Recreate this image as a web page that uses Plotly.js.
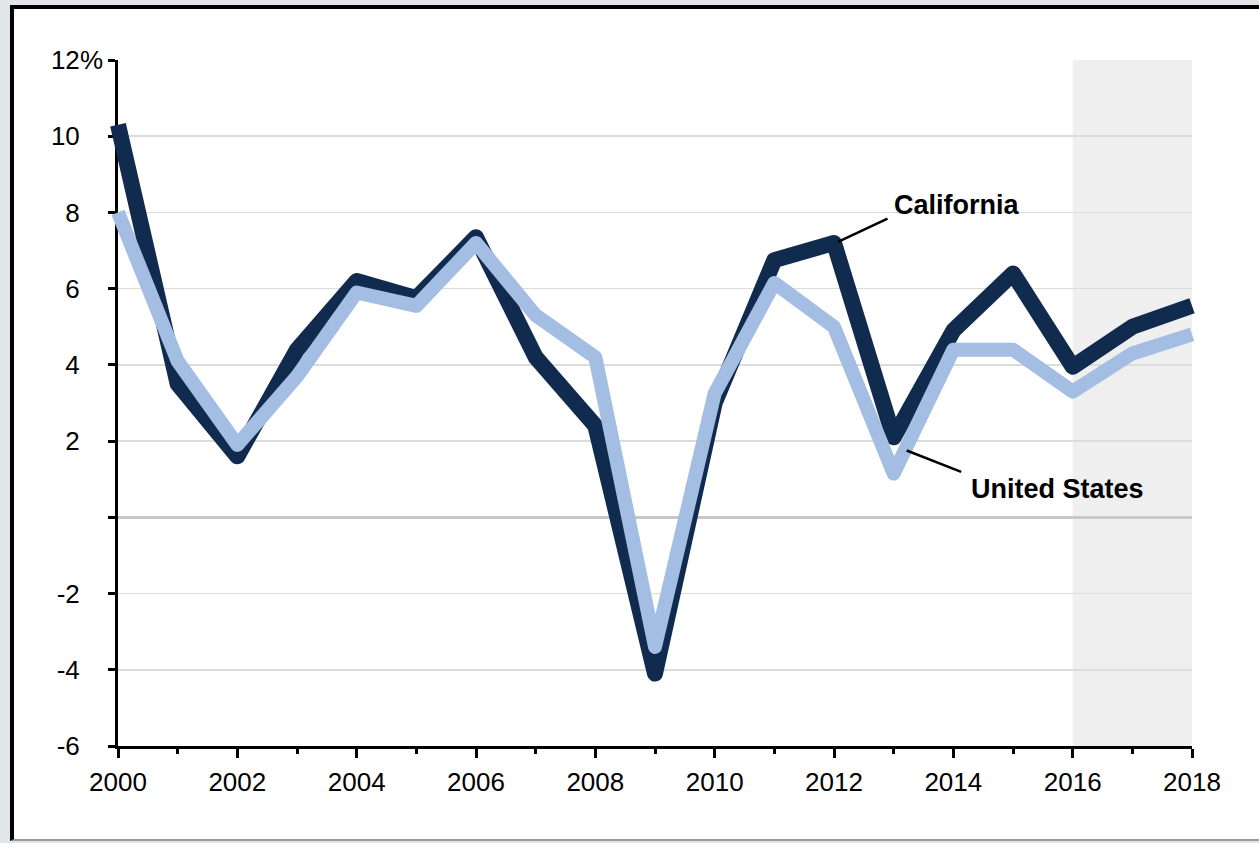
<!DOCTYPE html>
<html>
<head>
<meta charset="utf-8">
<script src="https://cdn.plot.ly/plotly-3.0.1.min.js"></script>
<style>
  html, body { margin: 0; padding: 0; }
  body { width: 1259px; height: 843px; background: #e1e4e8; position: relative; overflow: hidden; }
  #frame { position: absolute; left: 10px; top: 5px; width: 1300px; height: 830px;
           background: #ffffff; border-top: 4px solid #000; border-left: 4px solid #000;
           border-bottom: 2px solid #9a9a9a; }
  #chart { position: absolute; left: 0; top: 0; width: 1259px; height: 843px; }
  #chart .js-line { stroke-linejoin: round !important; }
</style>
</head>
<body>
<div id="frame"></div>
<div id="chart"></div>
<script>
const years = [2000, 2001, 2002, 2003, 2004, 2005, 2006, 2007, 2008, 2009,
               2010, 2011, 2012, 2013, 2014, 2015, 2016, 2017, 2018];
const california = [10.3, 3.5, 1.6, 4.4, 6.2, 5.75, 7.35, 4.2, 2.4, -4.1,
                    3.0, 6.75, 7.2, 2.1, 4.9, 6.4, 3.95, 5.0, 5.55];
const unitedStates = [8.0, 4.1, 1.9, 3.7, 5.9, 5.55, 7.2, 5.3, 4.2, -3.4,
                      3.25, 6.15, 5.0, 1.15, 4.4, 4.4, 3.3, 4.3, 4.8];
const yTickVals = [-6, -4, -2, 0, 2, 4, 6, 8, 10, 12];
const yTickText = ['-6', '-4', '-2', '', '2', '4', '6', '8', '10', '12'];
const xTickVals = [2000, 2002, 2004, 2006, 2008, 2010, 2012, 2014, 2016, 2018];
const xTickText = ['2000', '2002', '2004', '2006', '2008', '2010', '2012', '2014', '2016', '2018'];
const shadeStart = 2016, shadeEnd = 2018;

const FONT = 'Liberation Sans, Arial, Helvetica, sans-serif';

const traces = [
  { x: years, y: california, type: 'scatter', mode: 'lines', name: 'California',
    line: { color: '#112b4f', width: 16 }, hoverinfo: 'skip' },
  { x: years, y: unitedStates, type: 'scatter', mode: 'lines', name: 'United States',
    line: { color: '#a3bde3', width: 14 }, hoverinfo: 'skip' }
];

const caIdx = years.indexOf(2012);
const usIdx = years.indexOf(2013);

const layout = {
  width: 1259, height: 843,
  margin: { l: 118, r: 67, t: 60, b: 97 },
  paper_bgcolor: 'rgba(0,0,0,0)',
  plot_bgcolor: 'rgba(0,0,0,0)',
  showlegend: false,
  font: { family: FONT, size: 26, color: '#000' },
  xaxis: {
    range: [2000, 2018], fixedrange: true,
    tickmode: 'array', tickvals: xTickVals, ticktext: xTickText,
    ticks: 'outside', ticklen: 9, tickwidth: 3, tickcolor: '#000',
    ticklabelstandoff: 2,
    minor: { dtick: 1, tick0: 2000, ticks: 'outside', ticklen: 5, tickwidth: 3, tickcolor: '#000', showgrid: false },
    showline: true, linecolor: '#000', linewidth: 3,
    showgrid: false, zeroline: false,
    tickfont: { family: FONT, size: 26, color: '#000' }
  },
  yaxis: {
    range: [-6, 12], fixedrange: true,
    tickmode: 'array', tickvals: yTickVals, ticktext: yTickText,
    ticks: 'outside', ticklen: 7, tickwidth: 3, tickcolor: '#000',
    ticklabelstandoff: 23,
    showline: true, linecolor: '#000', linewidth: 3,
    showgrid: true, gridcolor: '#dcdcdc', gridwidth: 1.5,
    zeroline: true, zerolinecolor: '#c8c8c8', zerolinewidth: 3,
    layer: 'below traces',
    tickfont: { family: FONT, size: 26, color: '#000' }
  },
  shapes: [
    { type: 'rect', xref: 'x', yref: 'paper', x0: shadeStart, x1: shadeEnd, y0: 0, y1: 1,
      fillcolor: '#efefef', line: { width: 0 }, layer: 'below' }
  ],
  annotations: [
    { xref: 'paper', yref: 'y', x: 0, y: 12, text: '%', showarrow: false,
      xanchor: 'left', yanchor: 'middle', xshift: -40,
      font: { family: FONT, size: 26, color: '#000' } },
    // California leader line
    { xref: 'x', yref: 'y', x: years[caIdx], y: california[caIdx],
      text: ' ', showarrow: true, arrowhead: 0, arrowwidth: 2.5, arrowcolor: '#000',
      xshift: 4, yshift: 1, ax: 51, ay: -24, standoff: 0,
      font: { family: FONT, size: 1, color: '#000' } },
    // California label
    { xref: 'x', yref: 'y', x: years[caIdx], y: california[caIdx],
      text: '<b>California</b>', showarrow: false,
      xanchor: 'left', yanchor: 'bottom', xshift: 58, yshift: 21,
      font: { family: FONT, size: 27, color: '#000' } },
    // United States leader line
    { xref: 'x', yref: 'y', x: years[usIdx], y: unitedStates[usIdx],
      text: ' ', showarrow: true, arrowhead: 0, arrowwidth: 2.5, arrowcolor: '#000',
      xshift: 13, yshift: 23, ax: 56, ay: 22, standoff: 0,
      font: { family: FONT, size: 1, color: '#000' } },
    // United States label
    { xref: 'x', yref: 'y', x: years[usIdx], y: unitedStates[usIdx],
      text: '<b>United States</b>', showarrow: false,
      xanchor: 'left', yanchor: 'top', xshift: 75, yshift: 2,
      font: { family: FONT, size: 27, color: '#000' } }
  ]
};

Plotly.newPlot('chart', traces, layout, { staticPlot: true, displayModeBar: false }).then(function () {
  document.querySelectorAll('#chart .cartesianlayer [clip-path], #chart .cartesianlayer .plot').forEach(function (el) {
    el.removeAttribute('clip-path');
    el.style.clipPath = 'none';
  });
});
</script>
</body>
</html>
